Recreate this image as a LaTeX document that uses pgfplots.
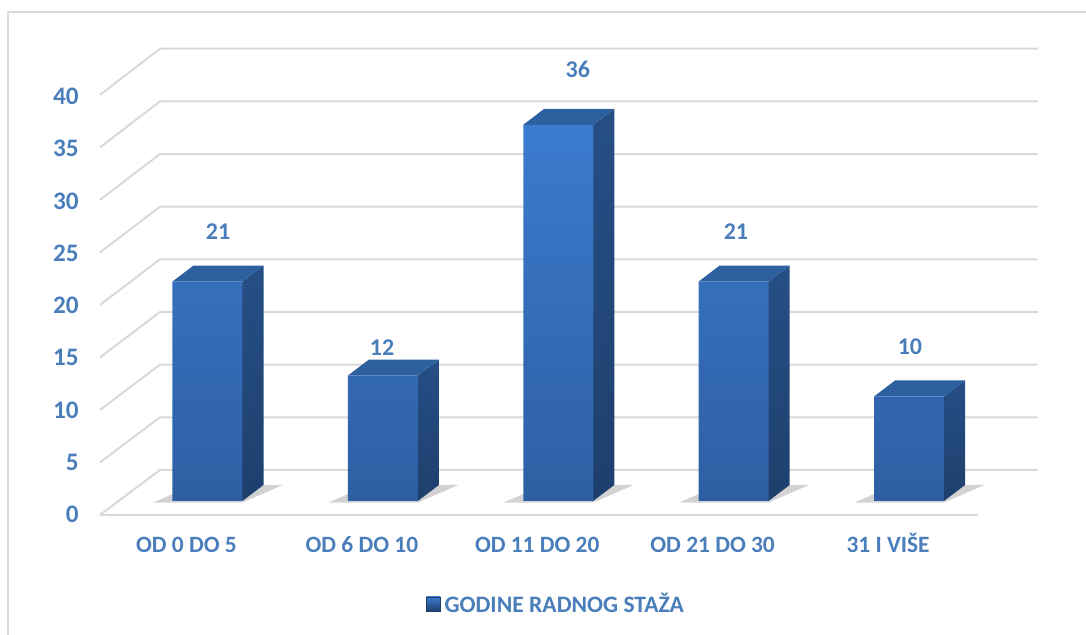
\documentclass[border=0pt]{standalone}
\usepackage{fontspec}
\setmainfont{Carlito}
\usepackage{pgfplots}
\pgfplotsset{compat=1.18}
\definecolor{txtblue}{HTML}{4A7EBB}
\definecolor{gridc}{HTML}{D9D9D9}
\definecolor{frontTop}{HTML}{3B7BCE}
\definecolor{frontBot}{HTML}{2E5FA3}
\definecolor{sideTop}{HTML}{264F86}
\definecolor{sideBot}{HTML}{1E3F6C}
\definecolor{topC}{HTML}{2D609F}
\definecolor{shadowC}{HTML}{B4B4B4}
\begin{document}
\begin{tikzpicture}
\begin{axis}[
  x=87.7pt, y=5.225pt,
  xmin=-1.183, xmax=5.009, ymin=-12.82, ymax=47.94,
  clip=false,
  axis line style={draw=none},
  tick style={draw=none},
  major tick length=0pt,
  xtick={0,1,2,3,4},
  xticklabels={OD 0 DO 5, OD 6 DO 10, OD 11 DO 20, OD 21 DO 30, 31 I VIŠE},
  xticklabel style={anchor=base, inner sep=0pt, yshift=41pt, xshift=-10.5pt,
    font=\bfseries\fontsize{11.7}{12}\selectfont, text=txtblue},
  ytick={0,5,10,15,20,25,30,35,40},
  yticklabel style={anchor=east, inner sep=0pt, xshift=39.5pt, yshift=-6.7pt,
    font=\bfseries\fontsize{12.6}{13}\selectfont, text=txtblue},
  /pgf/number format/assume math mode=true,
  legend style={at={(0.5129,0.0488)}, anchor=center, draw=none, fill=none,
    font=\bfseries\fontsize{11.8}{12}\selectfont, text=txtblue,
    inner sep=0pt, legend cell align=left},
  legend image code/.code={
    \shade[top color=frontTop, bottom color=sideBot, draw=sideBot, line width=0.3pt]
      (0pt,-3.5pt) rectangle (7pt,3.5pt);},
]
% chart frame
\draw[gridc, line width=0.8pt] (axis cs:-1.1374,-12.82) -- (axis cs:-1.1374,46.79) -- (axis cs:5.009,46.79);
% back wall grid and side diagonals
\pgfplotsinvokeforeach{0,5,10,15,20,25,30,35,40}{
  \draw[gridc, line width=1pt] (axis cs:-0.613,{-1.34+1.005*#1}) -- (axis cs:-0.2708,{2.967+1.0077*#1}) -- (axis cs:4.735,{2.967+1.0077*#1});
}
% front floor edge
\draw[gridc, line width=1pt] (axis cs:-0.613,-1.34) -- (axis cs:4.393,-1.34);

% floor shadows
\pgfplotsinvokeforeach{0,1,2,3,4}{
  \fill[shadowC, opacity=0.6] (axis cs:{#1-0.31},-0.15) -- (axis cs:{#1+0.2},-0.15) -- (axis cs:{#1+0.43},1.53) -- (axis cs:{#1-0.08},1.53) -- cycle;
}

% bar side faces
\addplot[forget plot, draw=none, shade, top color=sideTop, bottom color=sideBot] coordinates {(0.1995,0) (0.3195,1.53) (0.3195,22.53) (0.1995,21)} -- cycle;
\addplot[forget plot, draw=none, shade, top color=sideTop, bottom color=sideBot] coordinates {(1.1995,0) (1.3195,1.53) (1.3195,13.53) (1.1995,12)} -- cycle;
\addplot[forget plot, draw=none, shade, top color=sideTop, bottom color=sideBot] coordinates {(2.1995,0) (2.3195,1.53) (2.3195,37.53) (2.1995,36)} -- cycle;
\addplot[forget plot, draw=none, shade, top color=sideTop, bottom color=sideBot] coordinates {(3.1995,0) (3.3195,1.53) (3.3195,22.53) (3.1995,21)} -- cycle;
\addplot[forget plot, draw=none, shade, top color=sideTop, bottom color=sideBot] coordinates {(4.1995,0) (4.3195,1.53) (4.3195,11.53) (4.1995,10)} -- cycle;
% bar top faces
\addplot[forget plot, draw=none, fill=topC] coordinates {(-0.1995,21) (0.1995,21) (0.3195,22.53) (-0.0795,22.53)} -- cycle;
\addplot[forget plot, draw=none, fill=topC] coordinates {(0.8005,12) (1.1995,12) (1.3195,13.53) (0.9205,13.53)} -- cycle;
\addplot[forget plot, draw=none, fill=topC] coordinates {(1.8005,36) (2.1995,36) (2.3195,37.53) (1.9205,37.53)} -- cycle;
\addplot[forget plot, draw=none, fill=topC] coordinates {(2.8005,21) (3.1995,21) (3.3195,22.53) (2.9205,22.53)} -- cycle;
\addplot[forget plot, draw=none, fill=topC] coordinates {(3.8005,10) (4.1995,10) (4.3195,11.53) (3.9205,11.53)} -- cycle;
% bar front faces
\addplot[ybar, bar width=0.399, draw=none, shade, top color=frontTop, bottom color=frontBot]
  coordinates {(0,21) (1,12) (2,36) (3,21) (4,10)};
\addlegendentry{GODINE RADNOG STAŽA}

% value labels
\begin{scope}[every node/.style={font=\bfseries\fontsize{12}{12}\selectfont, text=txtblue}]
\node at (axis cs:0.060,25.74) {21};
\node at (axis cs:0.995,14.64) {12};
\node at (axis cs:2.112,41.34) {36};
\node at (axis cs:3.013,25.74) {21};
\node at (axis cs:4.005,14.74) {10};
\end{scope}

\coordinate (SW) at (rel axis cs:0,0);
\coordinate (NE) at (rel axis cs:1,1);
\end{axis}
\pgfresetboundingbox
\path[use as bounding box] (SW) rectangle (NE);
\end{tikzpicture}
\end{document}
